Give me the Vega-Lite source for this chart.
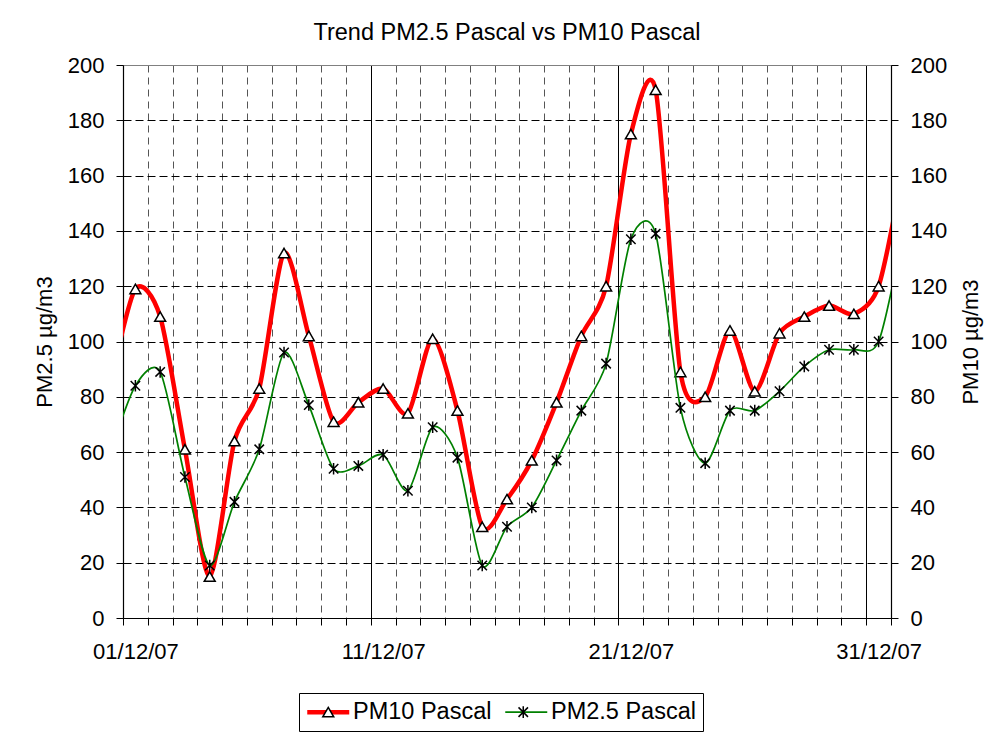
{
  "$schema": "https://vega.github.io/schema/vega-lite/v6.json",
  "width": 768,
  "height": 553,
  "autosize": {"type": "none"},
  "padding": {"left": 123, "top": 65, "right": 105, "bottom": 117},
  "background": "white",
  "title": {"text": "Trend PM2.5 Pascal vs PM10 Pascal", "fontSize": 23.5, "font": "Liberation Sans", "fontWeight": "normal", "color": "black", "anchor": "middle", "baseline": "alphabetic", "offset": 22, "dy": 31},
  "config": {
    "view": {"stroke": null},
    "font": "Liberation Sans",
    "axis": {"labelFont": "Liberation Sans", "titleFont": "Liberation Sans", "labelColor": "black", "titleColor": "black", "domainColor": "black", "tickColor": "black", "titleFontWeight": "normal", "labelFontSize": 22, "titleFontSize": 22, "tickSize": 7, "domainWidth": 1.2}
  },
  "data": {"values": [
    {"date": "2007/11/30", "series": "PM10 Pascal", "value": 85},
    {"date": "2007/12/01", "series": "PM10 Pascal", "value": 119},
    {"date": "2007/12/02", "series": "PM10 Pascal", "value": 109},
    {"date": "2007/12/03", "series": "PM10 Pascal", "value": 61},
    {"date": "2007/12/04", "series": "PM10 Pascal", "value": 15},
    {"date": "2007/12/05", "series": "PM10 Pascal", "value": 64},
    {"date": "2007/12/06", "series": "PM10 Pascal", "value": 83},
    {"date": "2007/12/07", "series": "PM10 Pascal", "value": 132},
    {"date": "2007/12/08", "series": "PM10 Pascal", "value": 102},
    {"date": "2007/12/09", "series": "PM10 Pascal", "value": 71},
    {"date": "2007/12/10", "series": "PM10 Pascal", "value": 78},
    {"date": "2007/12/11", "series": "PM10 Pascal", "value": 83},
    {"date": "2007/12/12", "series": "PM10 Pascal", "value": 74},
    {"date": "2007/12/13", "series": "PM10 Pascal", "value": 101},
    {"date": "2007/12/14", "series": "PM10 Pascal", "value": 75},
    {"date": "2007/12/15", "series": "PM10 Pascal", "value": 33},
    {"date": "2007/12/16", "series": "PM10 Pascal", "value": 43},
    {"date": "2007/12/17", "series": "PM10 Pascal", "value": 57},
    {"date": "2007/12/18", "series": "PM10 Pascal", "value": 78},
    {"date": "2007/12/19", "series": "PM10 Pascal", "value": 102},
    {"date": "2007/12/20", "series": "PM10 Pascal", "value": 120},
    {"date": "2007/12/21", "series": "PM10 Pascal", "value": 175},
    {"date": "2007/12/22", "series": "PM10 Pascal", "value": 191},
    {"date": "2007/12/23", "series": "PM10 Pascal", "value": 89},
    {"date": "2007/12/24", "series": "PM10 Pascal", "value": 80},
    {"date": "2007/12/25", "series": "PM10 Pascal", "value": 104},
    {"date": "2007/12/26", "series": "PM10 Pascal", "value": 82},
    {"date": "2007/12/27", "series": "PM10 Pascal", "value": 103},
    {"date": "2007/12/28", "series": "PM10 Pascal", "value": 109},
    {"date": "2007/12/29", "series": "PM10 Pascal", "value": 113},
    {"date": "2007/12/30", "series": "PM10 Pascal", "value": 110},
    {"date": "2007/12/31", "series": "PM10 Pascal", "value": 120},
    {"date": "2008/01/01", "series": "PM10 Pascal", "value": 163},
    {"date": "2007/11/30", "series": "PM2.5 Pascal", "value": 60},
    {"date": "2007/12/01", "series": "PM2.5 Pascal", "value": 84},
    {"date": "2007/12/02", "series": "PM2.5 Pascal", "value": 89},
    {"date": "2007/12/03", "series": "PM2.5 Pascal", "value": 51},
    {"date": "2007/12/04", "series": "PM2.5 Pascal", "value": 19},
    {"date": "2007/12/05", "series": "PM2.5 Pascal", "value": 42},
    {"date": "2007/12/06", "series": "PM2.5 Pascal", "value": 61},
    {"date": "2007/12/07", "series": "PM2.5 Pascal", "value": 96},
    {"date": "2007/12/08", "series": "PM2.5 Pascal", "value": 77},
    {"date": "2007/12/09", "series": "PM2.5 Pascal", "value": 54},
    {"date": "2007/12/10", "series": "PM2.5 Pascal", "value": 55},
    {"date": "2007/12/11", "series": "PM2.5 Pascal", "value": 59},
    {"date": "2007/12/12", "series": "PM2.5 Pascal", "value": 46},
    {"date": "2007/12/13", "series": "PM2.5 Pascal", "value": 69},
    {"date": "2007/12/14", "series": "PM2.5 Pascal", "value": 58},
    {"date": "2007/12/15", "series": "PM2.5 Pascal", "value": 19},
    {"date": "2007/12/16", "series": "PM2.5 Pascal", "value": 33},
    {"date": "2007/12/17", "series": "PM2.5 Pascal", "value": 40},
    {"date": "2007/12/18", "series": "PM2.5 Pascal", "value": 57},
    {"date": "2007/12/19", "series": "PM2.5 Pascal", "value": 75},
    {"date": "2007/12/20", "series": "PM2.5 Pascal", "value": 92},
    {"date": "2007/12/21", "series": "PM2.5 Pascal", "value": 137},
    {"date": "2007/12/22", "series": "PM2.5 Pascal", "value": 139},
    {"date": "2007/12/23", "series": "PM2.5 Pascal", "value": 76},
    {"date": "2007/12/24", "series": "PM2.5 Pascal", "value": 56},
    {"date": "2007/12/25", "series": "PM2.5 Pascal", "value": 75},
    {"date": "2007/12/26", "series": "PM2.5 Pascal", "value": 75},
    {"date": "2007/12/27", "series": "PM2.5 Pascal", "value": 82},
    {"date": "2007/12/28", "series": "PM2.5 Pascal", "value": 91},
    {"date": "2007/12/29", "series": "PM2.5 Pascal", "value": 97},
    {"date": "2007/12/30", "series": "PM2.5 Pascal", "value": 97},
    {"date": "2007/12/31", "series": "PM2.5 Pascal", "value": 100},
    {"date": "2008/01/01", "series": "PM2.5 Pascal", "value": 140}
  ]},
  "encoding": {
    "x": {
      "field": "date", "timeUnit": "yearmonthdate", "type": "temporal", "bandPosition": 0.5,
      "scale": {"domain": [{"year": 2007, "month": 12, "date": 1}, {"year": 2008, "month": 1, "date": 1}]},
      "axis": {
        "title": null,
        "tickCount": {"interval": "day", "step": 1},
        "format": "%d/%m/%y",
        "labelExpr": "(month(datum.value) == 11 && (date(datum.value) == 1 || date(datum.value) == 11 || date(datum.value) == 21 || date(datum.value) == 31)) ? timeFormat(datum.value, '%d/%m/%y') : ''",
        "labelOffset": 12.4,
        "labelFlush": false,
        "labelOverlap": false,
        "labelPadding": 16,
        "grid": true,
        "gridDash": {"condition": {"test": "month(datum.value) == 0 || (date(datum.value) == 11 || date(datum.value) == 21 || date(datum.value) == 31)", "value": []}, "value": [7, 5]},
        "gridColor": {"condition": {"test": "month(datum.value) == 0 || (date(datum.value) == 11 || date(datum.value) == 21 || date(datum.value) == 31)", "value": "black"}, "value": "#555555"},
        "gridOpacity": 1
      }
    }
  },
  "layer": [
    {
      "transform": [{"filter": "datum.series == 'PM10 Pascal'"}],
      "mark": {"type": "line", "interpolate": "cardinal", "tension": 0.2, "strokeWidth": 4.5, "clip": true},
      "encoding": {
        "y": {"field": "value", "type": "quantitative", "scale": {"domain": [0, 200], "nice": false},
          "axis": {"orient": "right", "title": "PM10 µg/m3", "values": [0, 20, 40, 60, 80, 100, 120, 140, 160, 180, 200], "grid": false, "labelPadding": 12, "titleAngle": 270, "titleBaseline": "top", "titlePadding": 14}},
        "color": {"field": "series", "type": "nominal",
          "scale": {"domain": ["PM10 Pascal", "PM2.5 Pascal"], "range": ["#FF0000", "#008000"]},
          "legend": {"orient": "none", "legendX": 176, "legendY": 628, "direction": "horizontal", "title": null,
            "symbolType": "M-2,0L2,0", "symbolSize": 441, "symbolOffset": 10.5, "labelOffset": 13,
            "labelFontSize": 23.5, "labelFont": "Liberation Sans", "labelColor": "black", "columnPadding": 9,
            "padding": 7, "strokeColor": "black", "fillColor": "white",
            "encode": {"symbols": {"update": {"strokeWidth": {"signal": "datum.value === 'PM10 Pascal' ? 4.5 : 1.7"}}}}}}
      }
    },
    {
      "transform": [{"filter": "datum.series == 'PM10 Pascal'"}],
      "mark": {"type": "point", "size": 441, "color": "black", "fill": "white", "stroke": "black", "strokeWidth": 1.5, "opacity": 1, "clip": true},
      "encoding": {
        "y": {"field": "value", "type": "quantitative", "scale": {"domain": [0, 200], "nice": false}, "axis": null},
        "shape": {"field": "series", "type": "nominal",
          "scale": {"range": ["M0,-0.45L0.52,0.45L-0.52,0.45Z", "M-0.45,-0.45L0.45,0.45M-0.45,0.45L0.45,-0.45M0,-0.55L0,0.55"]},
          "legend": {"orient": "none", "legendX": 176, "legendY": 628, "direction": "horizontal", "title": null,
            "symbolSize": 441, "symbolOffset": 10.5, "labelOffset": 13,
            "labelFontSize": 23.5, "labelFont": "Liberation Sans", "labelOpacity": 0, "columnPadding": 9,
            "padding": 7,
            "encode": {"symbols": {"update": {"stroke": {"value": "black"}, "fill": {"value": "white"}, "strokeWidth": {"value": 1.5}, "opacity": {"value": 1}}}}}}
      }
    },
    {
      "transform": [{"filter": "datum.series == 'PM2.5 Pascal'"}],
      "mark": {"type": "line", "interpolate": "cardinal", "tension": 0.2, "strokeWidth": 1.7, "clip": true},
      "encoding": {
        "y": {"field": "value", "type": "quantitative", "scale": {"domain": [0, 200], "nice": false},
          "axis": {"orient": "left", "title": "PM2.5 µg/m3", "values": [0, 20, 40, 60, 80, 100, 120, 140, 160, 180, 200], "grid": true,
            "gridDash": {"condition": {"test": "datum.value == 200", "value": []}, "value": [8, 4]},
            "gridColor": {"condition": {"test": "datum.value == 200", "value": "#808080"}, "value": "black"},
            "gridOpacity": 1,
            "labelPadding": 12, "titlePadding": 11}},
        "color": {"field": "series", "type": "nominal"}
      }
    },
    {
      "transform": [{"filter": "datum.series == 'PM2.5 Pascal'"}],
      "mark": {"type": "point", "size": 441, "color": "black", "fill": "white", "stroke": "black", "strokeWidth": 1.5, "opacity": 1, "clip": true},
      "encoding": {
        "y": {"field": "value", "type": "quantitative", "scale": {"domain": [0, 200], "nice": false}, "axis": null},
        "shape": {"field": "series", "type": "nominal"}
      }
    }
  ],
  "resolve": {"scale": {"y": "independent"}}
}
